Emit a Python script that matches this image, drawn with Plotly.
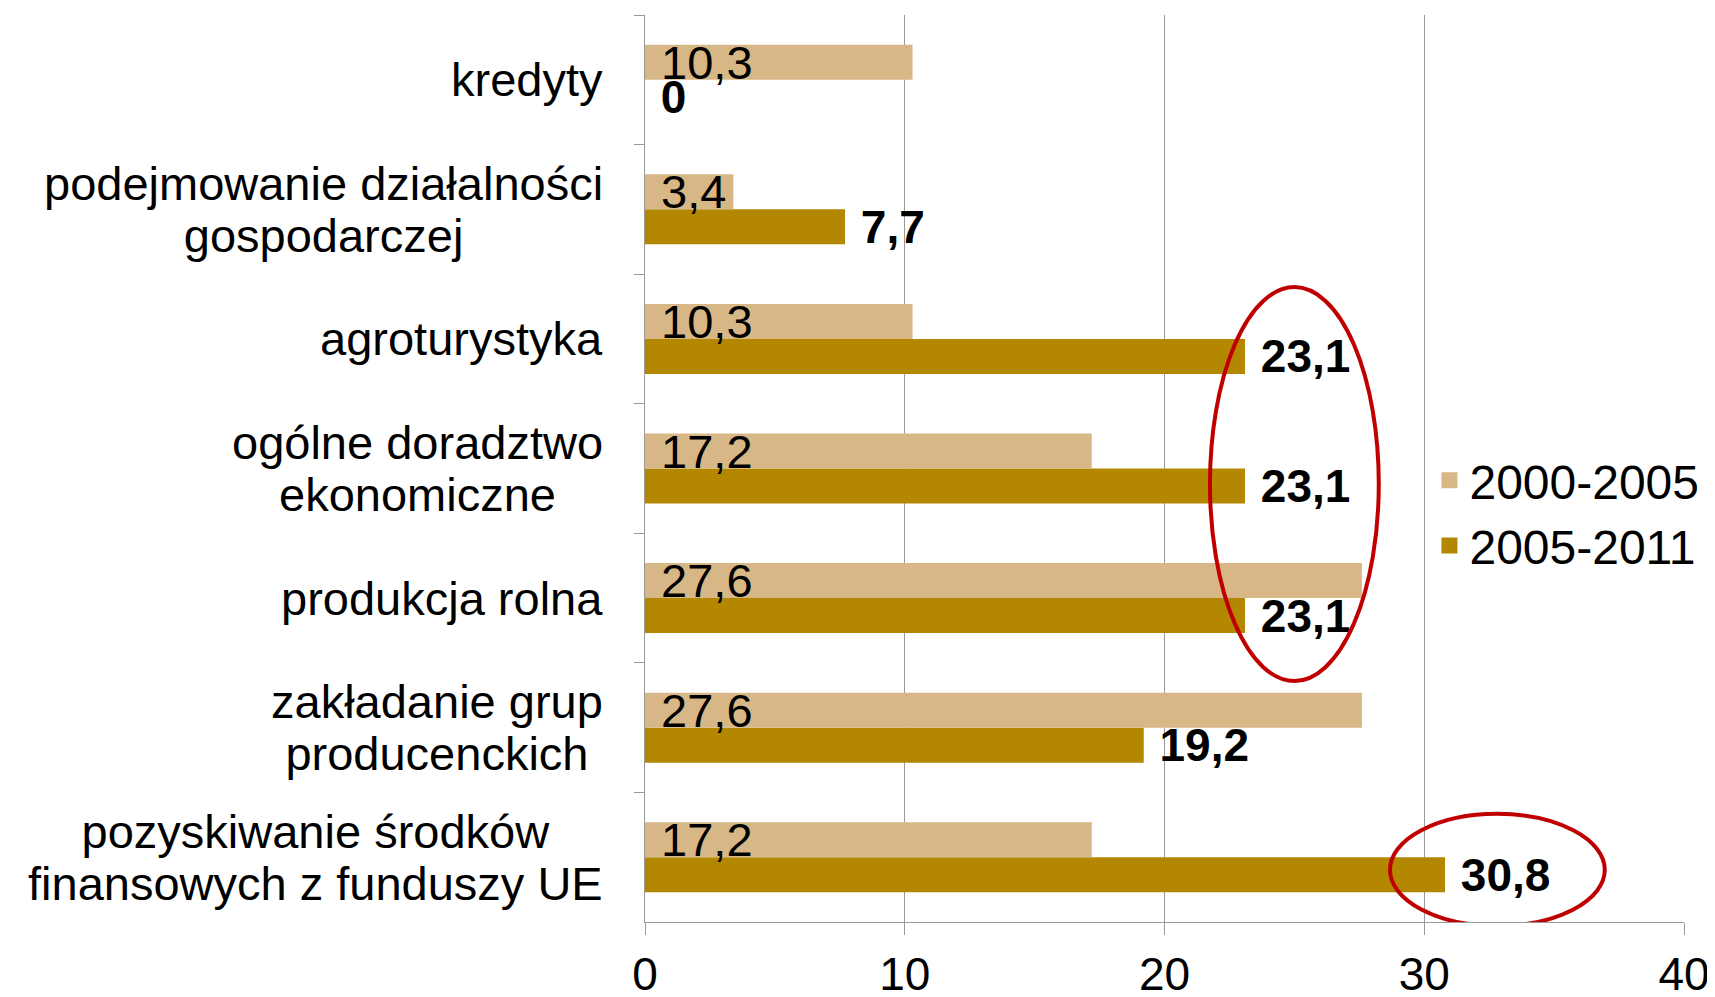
import plotly.graph_objects as go

# ---- data ----
categories = [
    "kredyty",
    "podejmowanie działalności\ngospodarczej",
    "agroturystyka",
    "ogólne doradztwo\nekonomiczne",
    "produkcja rolna",
    "zakładanie grup\nproducenckich",
    "pozyskiwanie środków\nfinansowych z funduszy UE",
]
series_names = ["2000-2005", "2005-2011"]
values_2000_2005 = [10.3, 3.4, 10.3, 17.2, 27.6, 27.6, 17.2]
values_2005_2011 = [0, 7.7, 23.1, 23.1, 23.1, 19.2, 30.8]
x_ticks = [0, 10, 20, 30, 40]

# highlight ellipses (x in data units, y in category index units)
ellipse_a = dict(x0=21.75, x1=28.25, y0=1.60, y1=4.64)
ellipse_b = dict(x0=28.68, x1=36.95, y0=5.665, y1=6.53)

LIGHT = "#D8B786"
DARK = "#B38700"
GRID = "#9A9A9A"
FONT = "Liberation Sans, Arial, sans-serif"
NBSP = "\u00a0"
BAR_W = 0.27


def fmt(v):
    s = ("%.1f" % v).replace(".", ",")
    return "0" if v == 0 else s


cat_keys = [c.replace("\n", " ") for c in categories]

fig = go.Figure()
# dark series first so the light series' labels are drawn on top of it
fig.add_trace(go.Bar(
    y=cat_keys, x=values_2005_2011, orientation="h", name=series_names[1],
    width=BAR_W, offset=0,
    marker=dict(color=DARK, line=dict(width=0)),
    text=["<b>" + NBSP + fmt(v) + "</b>" for v in values_2005_2011],
    textposition="outside", textangle=0, constraintext="none",
    cliponaxis=False,
    textfont=dict(family=FONT, size=46, color="black"),
    legendgroup="b", showlegend=False,
))
fig.add_trace(go.Bar(
    y=cat_keys, x=values_2000_2005, orientation="h", name=series_names[0],
    width=BAR_W, offset=-BAR_W,
    marker=dict(color=LIGHT, line=dict(width=0)),
    text=[NBSP + fmt(v) for v in values_2000_2005],
    textposition="inside", insidetextanchor="start", textangle=0,
    constraintext="none",
    textfont=dict(family=FONT, size=47, color="black"),
    legendgroup="a", showlegend=False,
))
# legend proxies (larger square symbols)
for nm, col, grp in [(series_names[0], LIGHT, "a"), (series_names[1], DARK, "b")]:
    fig.add_trace(go.Scatter(
        x=[None], y=[None], mode="markers", name=nm, legendgroup=grp,
        marker=dict(symbol="square", size=16, color=col),
    ))

# category labels as centered multi-line annotations (tight line spacing)
for key, lab in zip(cat_keys, categories):
    lines = ["<span style='font-size:47px'>%s</span>" % ln for ln in lab.split("\n")]
    fig.add_annotation(
        x=0, xref="paper", y=key, yref="y", xshift=-40,
        xanchor="right", yanchor="middle", align="center",
        text="<br>".join(lines), showarrow=False,
        font=dict(family=FONT, size=40, color="black"),
    )

for e in (ellipse_a, ellipse_b):
    fig.add_shape(type="circle", xref="x", yref="y", **e,
                  line=dict(color="#C00000", width=4), fillcolor="rgba(0,0,0,0)")

fig.update_layout(
    width=1707, height=989,
    margin=dict(l=637, r=31, t=7, b=75),
    paper_bgcolor="white", plot_bgcolor="white",
    barmode="overlay",
    font=dict(family=FONT, color="black"),
    legend=dict(
        x=0.755, y=0.451, xanchor="left", yanchor="middle",
        bgcolor="rgba(0,0,0,0)", font=dict(family=FONT, size=48, color="black"),
        traceorder="normal", itemwidth=30,
    ),
)
fig.update_xaxes(
    range=[0, 40], tickvals=x_ticks, ticktext=[str(t) for t in x_ticks],
    showgrid=True, gridcolor=GRID, gridwidth=1.3,
    zeroline=False, showline=True, linecolor=GRID, linewidth=1.3,
    ticks="outside", ticklen=12, tickcolor=GRID, tickwidth=1.3,
    tickfont=dict(family=FONT, size=46, color="black"),
    ticklabelstandoff=0, automargin=False,
)
fig.update_yaxes(
    categoryorder="array", categoryarray=cat_keys,
    range=[len(cat_keys) - 0.5, -0.5],
    showticklabels=False, showgrid=False, zeroline=False,
    showline=True, linecolor=GRID, linewidth=1.3,
    ticks="outside", tickson="boundaries", ticklen=10, tickcolor=GRID, tickwidth=1.3,
    automargin=False,
)

fig.write_html("out.html")
